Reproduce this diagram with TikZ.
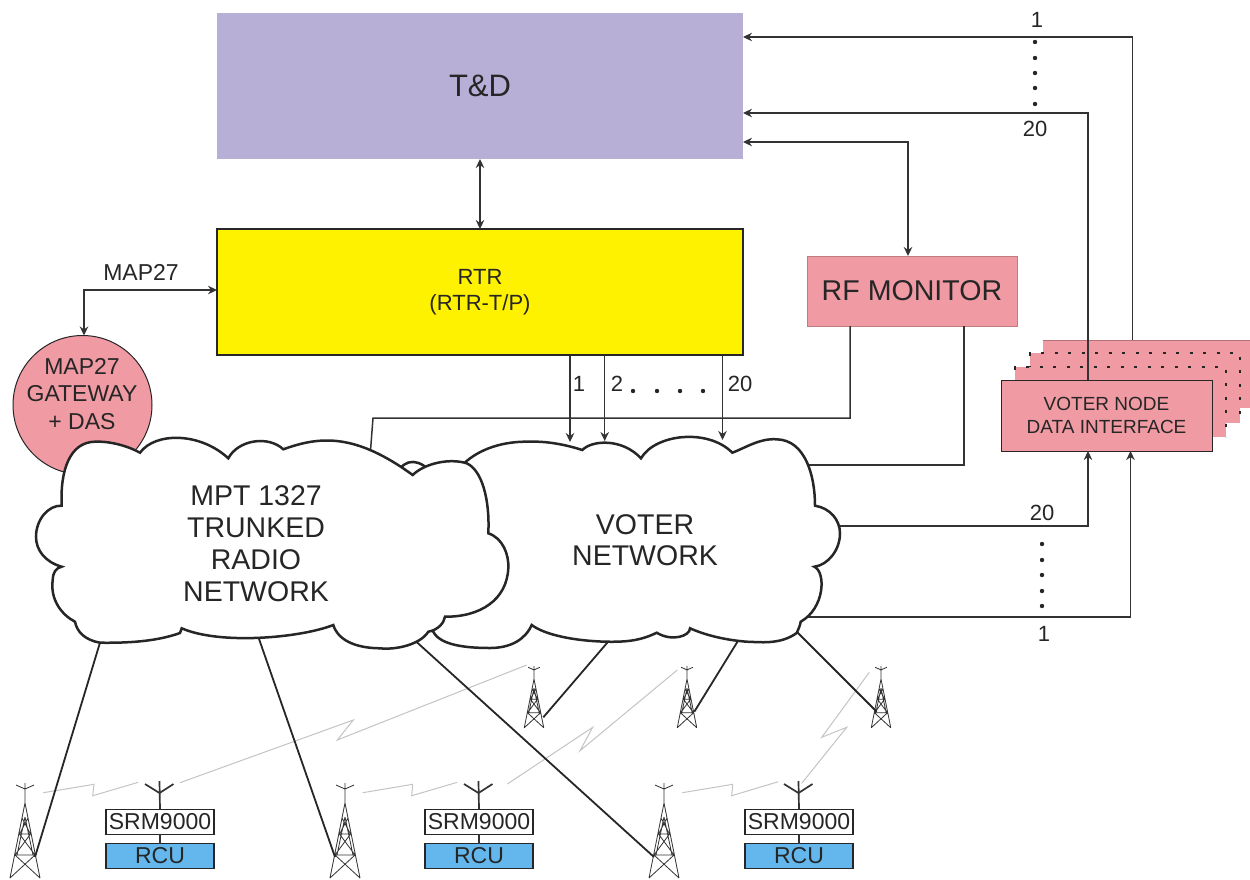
\documentclass[tikz,border=0pt]{standalone}
\usepackage{fontspec}
\setmainfont{Liberation Sans}
\usetikzlibrary{arrows.meta}
\definecolor{ink}{HTML}{262626}
\definecolor{linec}{HTML}{333333}
\definecolor{pinkf}{HTML}{F09AA4}
\definecolor{purplef}{HTML}{B7AFD6}
\definecolor{yellowf}{HTML}{FFF200}
\definecolor{bluef}{HTML}{63B7EC}
\definecolor{radioc}{HTML}{C4C4C4}
\tikzset{
  fs/.code={\pgfmathsetlengthmacro\fsb{#1*1.18}\tikzset{font=\fontsize{#1}{\fsb}\selectfont}},
  lab/.style={text=ink,inner sep=0pt,outer sep=0pt,align=center},
  box/.style={rectangle,inner sep=0pt,outer sep=0pt,text=ink,align=center,anchor=north west},
  conn/.style={draw=linec,line width=1.5pt},
  arr/.style={conn,-{Stealth[length=9pt,width=8.5pt]}},
  darr/.style={conn,{Stealth[length=9pt,width=8.5pt]}-{Stealth[length=9pt,width=8.5pt]}},
  link/.style={draw=ink,line width=1.8pt},
  radio/.style={draw=radioc,line width=1pt},
  cloud line/.style={draw=ink,line width=2.5pt,fill=white,line join=miter},
  dotted edge/.style={draw=ink,line width=2.5pt,dash pattern=on 3pt off 10.5pt},
  tower/.pic={
    \draw[draw=linec,line width=.8pt,line join=round]
      (0,0)--(0,20)
      (-9,2)--(0,6)--(9,2)
      (0,20)--(-15,95) (0,20)--(15,95)
      (0,34)--(-8,72) (0,34)--(8,72)
      (-5.5,51)--(5.5,51)
      (-10,72)--(10,72)
      (-5.5,51)--(10,72) (5.5,51)--(-10,72)
      (-10,72)--(15,95) (10,72)--(-15,95)
      (-3,35)--(5.5,51) (3,35)--(-5.5,51);
  }
}
\begin{document}
\begin{tikzpicture}[x=1pt,y=-1pt]
\useasboundingbox (0,0) rectangle (1250,879);
\fill[white] (0,0) rectangle (1250,879);

% free coordinates
\coordinate (upA) at (1132.5,37);
\coordinate (upB) at (1088,113);
\coordinate (rfA) at (908,142);
\coordinate (mapA) at (84,290);
\coordinate (rfB) at (850,418);
\coordinate (rfC) at (964,465);
\coordinate (mptTop) at (369,470);
\coordinate (mptTopB) at (373,418);
\coordinate (voterRfC) at (800,465);
\coordinate (voterB) at (800,526);
\coordinate (voterBc) at (1088,526);
\coordinate (voterA) at (790,617);
\coordinate (voterAc) at (1130.5,617);

% boxes
\node[box,fill=purplef,minimum width=526pt,minimum height=146pt,fs=31] (td) at (217,13) {T\&D};
\node[box,fill=yellowf,draw=ink,line width=1.3pt,minimum width=526pt,minimum height=126pt,fs=22] (rtr) at (217,229) {RTR\\(RTR-T/P)};
\node[box,fill=pinkf,draw=pinkf!80!black,line width=.5pt,minimum width=210pt,minimum height=70pt,fs=28.6] (rf) at (807,256) {RF MONITOR};
\node[circle,fill=pinkf,draw=ink,line width=1pt,minimum size=139pt,inner sep=0pt,outer sep=0pt] (gw) at (82.5,405) {};
\node[lab,fs=23] (gwt) at (82,394) {MAP27\\GATEWAY\\+ DAS};

% stacked voter node cards
\node[box,fill=pinkf,minimum width=207pt,minimum height=68pt] (stackC) at (1043,340) {};
\draw[draw=pinkf!75!black,line width=.6pt] (stackC.north west)--(stackC.north east);
\node[box,fill=pinkf,minimum width=210pt,minimum height=70pt] (stackB) at (1030,353) {};
\draw[dotted edge] (stackB.south west)--(stackB.north west)--(stackB.north east)--(stackB.south east);
\node[box,fill=pinkf,minimum width=211pt,minimum height=70pt] (stackA) at (1015,367) {};
\draw[dotted edge] (stackA.south west)--(stackA.north west)--(stackA.north east)--(stackA.south east);

% connectors
\draw[arr] (stackC.north -| upA) -- (upA) -- (td.east |- upA);
\draw[darr] (td.east |- rfA) -- (rfA) -- (rf.north -| rfA);
\draw[darr] (td.south) -- (rtr.north -| td.south);
\draw[darr] (rtr.west |- mapA) -- (mapA) -- (gw.north -| mapA);
\draw[conn] (rf.south -| rfB) -- (rfB) -- (mptTopB) -- (mptTop);
\draw[conn] (rf.south -| rfC) -- (rfC) -- (voterRfC);
\coordinate (stopA) at (570,442);
\coordinate (stopB) at (604.7,441);
\coordinate (stopC) at (722.5,440);
\draw[arr] (rtr.south -| stopA) -- (stopA);
\draw[arr] (rtr.south -| stopB) -- (stopB);
\draw[arr] (rtr.south -| stopC) -- (stopC);

% front card
\node[box,fill=pinkf,draw=ink,line width=1pt,minimum width=211pt,minimum height=71pt,fs=19] (vnd) at (1001,380) {VOTER NODE\\DATA INTERFACE};
\draw[arr] (vnd.north -| upB) -- (upB) -- (td.east |- upB);
\draw[arr] (voterB) -- (voterBc) -- (vnd.south -| voterBc);
\draw[arr] (voterA) -- (voterAc) -- (vnd.south -| voterAc);

% towers
\pic (t1) at (25,783) {tower};
\pic (t2) at (345,783) {tower};
\pic (t3) at (664,783) {tower};
\pic[scale=.65] (t4) at (534,666) {tower};
\pic[scale=.65] (t5) at (687,666) {tower};
\pic[scale=.65] (t6) at (881,666) {tower};

% radio links
\draw[radio] (43.3,792.7)--(94,784.3)--(92.7,795.7)--(138.3,782.3);
\draw[radio] (180,782.7)--(353.3,720)--(337.3,740)--(526.7,665);
\draw[radio] (362.7,792.7)--(412.7,784.3)--(411.7,795.7)--(457.3,782.3);
\draw[radio] (507.3,784)--(592.7,727.3)--(580,750.7)--(677.3,670);
\draw[radio] (682.3,792.7)--(732.7,784.3)--(731.7,795.7)--(778.3,781.7);
\draw[radio] (801.7,783.3)--(846.7,727.3)--(821.7,737.3)--(869.3,672.3);

% links from clouds to towers
\coordinate (mA) at (102,636); \coordinate (tA) at (35,857);
\coordinate (mB) at (258,636); \coordinate (tB) at (335,857);
\coordinate (mC) at (410,636); \coordinate (tC) at (654,857);
\coordinate (vA) at (613,636); \coordinate (tD) at (543.3,717.3);
\coordinate (vB) at (741,636); \coordinate (tE) at (694.3,711.7);
\coordinate (vC) at (790,625); \coordinate (tF) at (876.7,711.7);
\draw[link] (mA)--(tA);
\draw[link] (mB)--(tB);
\draw[link] (mC)--(tC);
\draw[link] (vA)--(tD);
\draw[link] (vB)--(tE);
\draw[link] (vC)--(tF);

% voter cloud
\path[cloud line] (395,480) .. controls (400,460) and (415,457) .. (428,469)
  -- (463.3,464) .. controls (480,448) and (505,441) .. (530,441.7)
  .. controls (550,441) and (570,446) .. (582.3,450)
  .. controls (592,440) and (622,438) .. (641,458.3)
  .. controls (655,434) and (708,428) .. (732.3,452.7)
  .. controls (745,448) and (760,438) .. (776.7,439.3)
  .. controls (805,440) and (815,475) .. (815,505.7)
  .. controls (830,508) and (840,520) .. (840,533.3)
  .. controls (840,550) and (828,565) .. (814.3,566.7)
  .. controls (826,572) and (825,608) .. (800.7,621.7)
  .. controls (800,626) and (798,630) .. (796.7,633)
  .. controls (780,645) and (760,642) .. (746.7,641.7)
  .. controls (725,640) and (705,635) .. (690,628.3)
  .. controls (690,636) and (672,642) .. (656.7,632.7)
  .. controls (640,641) and (625,642) .. (606.7,641.7)
  .. controls (575,641) and (545,635) .. (531.7,625)
  .. controls (525,640) and (510,648) .. (490,648)
  .. controls (465,648) and (440,645) .. (433.3,631.7)
  -- (400,560) -- cycle;
\node[lab,fs=28.5] (voterT) at (645,540) {VOTER\\[-2pt]NETWORK};

% MPT cloud
\path[cloud line] (140,452.7)
  .. controls (155,432) and (200,432) .. (228.3,458.3)
  .. controls (238,440) and (268,435) .. (283.3,449.3)
  .. controls (320,436) and (355,433) .. (412.7,475)
  .. controls (425,463) and (450,458) .. (466.7,463.3)
  .. controls (482,470) and (490,500) .. (488.3,533.3)
  .. controls (503,538) and (509,555) .. (508.3,568)
  .. controls (507,600) and (480,617) .. (445,616.7)
  .. controls (444,623) and (438,630) .. (428.3,631.7)
  .. controls (420,645) and (395,650) .. (380,648.3)
  .. controls (355,648) and (338,640) .. (333.3,625)
  .. controls (300,638) and (220,645) .. (181.7,628.3)
  -- (180,633)
  .. controls (155,642) and (125,643) .. (100,642.7)
  .. controls (85,640) and (77,632) .. (75,621.7)
  .. controls (62,615) and (50,600) .. (52.7,580)
  .. controls (53,572) and (56,568) .. (61.7,566.7)
  .. controls (45,562) and (36,550) .. (36,536.7)
  .. controls (36,520) and (48,505) .. (61.7,505.7)
  .. controls (60,470) and (70,442) .. (95,441.7)
  .. controls (110,441) and (128,446) .. (140,452.7) -- cycle;
\node[lab,fs=28.5] (mptT) at (256,544) {MPT 1327\\[-1.6pt]TRUNKED\\[-1.6pt]RADIO\\[-1.6pt]NETWORK};

% SRM9000 + RCU units
\foreach \n/\x in {a/106,b/425,c/745}{
  \node[box,fill=white,draw=ink,line width=1.1pt,minimum width=108pt,minimum height=25pt,fs=23] (srm\n) at (\x,809.3) {SRM9000};
  \node[box,fill=bluef,draw=ink,line width=1.1pt,minimum width=108pt,minimum height=24.5pt,fs=23] (rcu\n) at (\x,843.7) {RCU};
  \coordinate (ant\n) at (\x+53.5,781);
  \draw[conn] (srm\n.south) -- (rcu\n.north);
  \draw[conn,line width=1.7pt] (srm\n.north) -- (ant\n);
  \draw[conn,line width=1.7pt] (\x+39,784)--(\x+53.5,793)--(\x+67.5,784);
}

% labels
\node[lab,fs=23] (mapL) at (141,272) {MAP27};
\node[lab,fs=22] (n1) at (579,384) {1};
\node[lab,fs=22] (n2) at (617,384) {2};
\node[lab,fs=22] (n20) at (740,384) {20};
\foreach \x in {633,657,680,703}{\fill[ink] (\x,391) circle (2.2);}
\node[lab,fs=22] (a1) at (1037,20) {1};
\node[lab,fs=22] (a20) at (1035,129) {20};
\foreach \y in {42,58,73,88,104}{\fill[ink] (1035,\y) circle (2.2);}
\node[lab,fs=22] (b20) at (1042,513) {20};
\node[lab,fs=22] (b1) at (1044,634) {1};
\foreach \y in {544,560,575,591,606}{\fill[ink] (1042,\y) circle (2.2);}
\end{tikzpicture}
\end{document}
